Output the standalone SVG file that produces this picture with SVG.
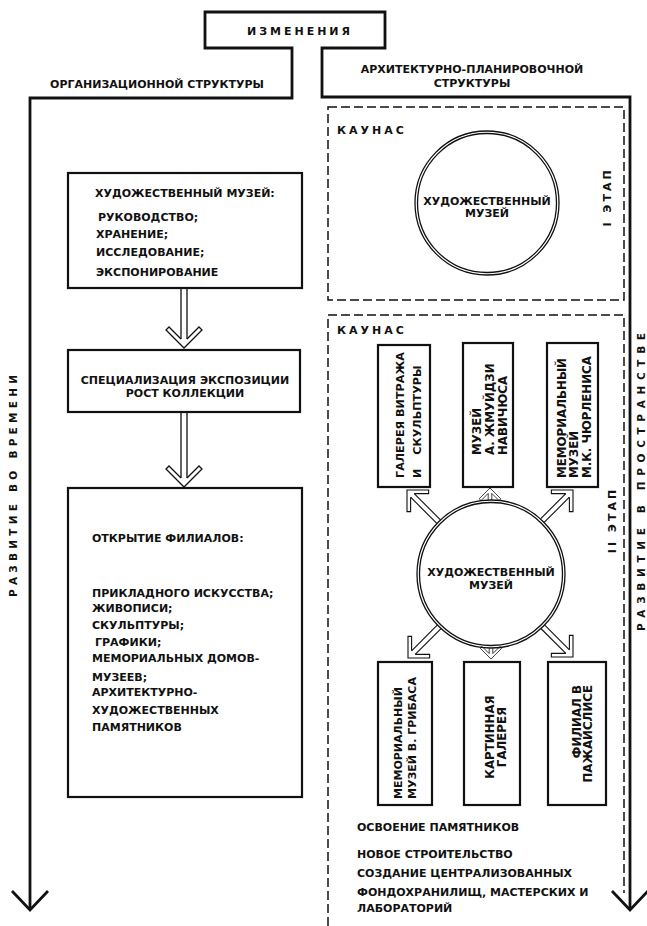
<svg xmlns="http://www.w3.org/2000/svg" width="647" height="926" viewBox="0 0 647 926">
<style>
.t{font-family:"DejaVu Sans","Liberation Sans",sans-serif;font-weight:bold;font-size:11px;fill:#111}
.s{font-size:10.5px}
.r{font-size:11.8px}
.r2{font-size:11.2px}
.main{fill:none;stroke:#111;stroke-width:2.8;stroke-linejoin:miter}
.box{fill:#fff;stroke:#111;stroke-width:2.2}
.dash{fill:none;stroke:#111;stroke-width:1.5;stroke-dasharray:9 4}
.ring{fill:#fff;stroke:#111;stroke-width:1.3}
.ar{fill:none;stroke:#111;stroke-width:1.3;stroke-linejoin:miter}
.chev{fill:none;stroke:#111;stroke-width:2.8}
</style>
<defs>
<path id="head" d="M-9,-3 L-21,-15 L-18,-18 L0,0 L-18,18 L-21,15 L-9,3"/>
</defs>
<rect width="647" height="926" fill="#fff"/>

<g id="frame">
<path class="main" d="M30,908 V98 H292 V48 H205 V12 H385 V48 H322 V97 H630 V908"/>
<path class="chev" d="M12,891 L30,910 L48,891"/>
<path class="chev" d="M612,891 L630,910 L648,891"/>
<text class="t" x="300" y="35" text-anchor="middle" letter-spacing="3">ИЗМЕНЕНИЯ</text>
<text class="t" x="157" y="88" text-anchor="middle">ОРГАНИЗАЦИОННОЙ СТРУКТУРЫ</text>
<text class="t" x="472" y="73" text-anchor="middle">АРХИТЕКТУРНО-ПЛАНИРОВОЧНОЙ</text>
<text class="t" x="472" y="87" text-anchor="middle">СТРУКТУРЫ</text>
<text class="t s" transform="translate(17,486) rotate(-90)" text-anchor="middle" textLength="222">РАЗВИТИЕ  ВО  ВРЕМЕНИ</text>
<text class="t s" transform="translate(645,482) rotate(-90)" text-anchor="middle" textLength="298">РАЗВИТИЕ В ПРОСТРАНСТВЕ</text>
</g>

<g id="stage1">
<rect class="dash" x="328" y="107" width="296" height="193"/>
<text class="t" x="337" y="134" letter-spacing="3">КАУНАС</text>
<text class="t" transform="translate(611,197) rotate(-90)" text-anchor="middle" letter-spacing="3">I  ЭТАП</text>
</g>

<g id="stage2">
<path class="dash" d="M328,926 V315 H624 V893"/>
<text class="t" x="337" y="334" letter-spacing="3">КАУНАС</text>
<text class="t" transform="translate(616,520) rotate(-90)" text-anchor="middle" letter-spacing="3">II  ЭТАП</text>
</g>

<g id="museum1">
<circle class="ring" cx="487" cy="203" r="72"/>
<circle class="ring" cx="487" cy="203" r="69.5"/>
<text class="t" x="487" y="205" text-anchor="middle">ХУДОЖЕСТВЕННЫЙ</text>
<text class="t" x="487" y="217" text-anchor="middle">МУЗЕЙ</text>
</g>

<g id="museum2">
<circle class="ring" cx="491" cy="574" r="74"/>
<circle class="ring" cx="491" cy="574" r="71.5"/>
<text class="t" x="491" y="576" text-anchor="middle">ХУДОЖЕСТВЕННЫЙ</text>
<text class="t" x="491" y="589" text-anchor="middle">МУЗЕЙ</text>
</g>

<g id="boxA">
<rect class="box" x="378" y="345" width="52" height="142"/>
<text class="t r2" transform="translate(404,478) rotate(-90)">ГАЛЕРЕЯ ВИТРАЖА</text>
<text class="t r2" transform="translate(421,478) rotate(-90)">И<tspan dx="14">СКУЛЬПТУРЫ</tspan></text>
</g>
<g id="boxB">
<rect class="box" x="463" y="343" width="50" height="144"/>
<text class="t r" transform="translate(481,455) rotate(-90)">МУЗЕЙ</text>
<text class="t r" transform="translate(494,455) rotate(-90)">А. ЖМУЙДЗИ</text>
<text class="t r" transform="translate(507,455) rotate(-90)">НАВИЧЮСА</text>
</g>
<g id="boxC">
<rect class="box" x="547" y="343" width="51" height="144"/>
<text class="t r" transform="translate(566,478) rotate(-90)">МЕМОРИАЛЬНЫЙ</text>
<text class="t r" transform="translate(578,478) rotate(-90)">МУЗЕЙ</text>
<text class="t r" transform="translate(591,478) rotate(-90)">М.К. ЧЮРЛЕНИСА</text>
</g>
<g id="boxD">
<rect class="box" x="378" y="662" width="54" height="143"/>
<text class="t" transform="translate(402,799) rotate(-90)">МЕМОРИАЛЬНЫЙ</text>
<text class="t" transform="translate(416,799) rotate(-90)">МУЗЕЙ В. ГРИБАСА</text>
</g>
<g id="boxE">
<rect class="box" x="464" y="662" width="56" height="143"/>
<text class="t r" transform="translate(494,737) rotate(-90)" text-anchor="middle">КАРТИННАЯ</text>
<text class="t r" transform="translate(506,737) rotate(-90)" text-anchor="middle">ГАЛЕРЕЯ</text>
</g>
<g id="boxF">
<rect class="box" x="548" y="662" width="58" height="143"/>
<text class="t r" transform="translate(581,685) rotate(-90)" text-anchor="end">ФИЛИАЛ В</text>
<text class="t r" transform="translate(592,685) rotate(-90)" text-anchor="end">ПАЖАЙСЛИСЕ</text>
</g>

<g id="notes">
<text class="t" x="357" y="831">ОСВОЕНИЕ ПАМЯТНИКОВ</text>
<text class="t" x="357" y="858">НОВОЕ СТРОИТЕЛЬСТВО</text>
<text class="t" x="357" y="877">СОЗДАНИЕ ЦЕНТРАЛИЗОВАННЫХ</text>
<text class="t" x="357" y="896">ФОНДОХРАНИЛИЩ, МАСТЕРСКИХ И</text>
<text class="t" x="357" y="912">ЛАБОРАТОРИЙ</text>
</g>

<g id="box1">
<rect class="box" x="68" y="173" width="234" height="115"/>
<text class="t" x="95" y="197">ХУДОЖЕСТВЕННЫЙ МУЗЕЙ:</text>
<text class="t" x="98" y="221">РУКОВОДСТВО;</text>
<text class="t" x="96" y="238">ХРАНЕНИЕ;</text>
<text class="t" x="96" y="256">ИССЛЕДОВАНИЕ;</text>
<text class="t" x="96" y="276">ЭКСПОНИРОВАНИЕ</text>
</g>
<g id="box2">
<rect class="box" x="68" y="350" width="232" height="62"/>
<text class="t" x="185" y="384" text-anchor="middle">СПЕЦИАЛИЗАЦИЯ ЭКСПОЗИЦИИ</text>
<text class="t" x="185" y="397" text-anchor="middle">РОСТ КОЛЛЕКЦИИ</text>
</g>
<g id="box3">
<rect class="box" x="68" y="488" width="234" height="309"/>
<text class="t" x="92" y="542">ОТКРЫТИЕ ФИЛИАЛОВ:</text>
<text class="t" x="92" y="597">ПРИКЛАДНОГО ИСКУССТВА;</text>
<text class="t" x="92" y="612">ЖИВОПИСИ;</text>
<text class="t" x="92" y="629">СКУЛЬПТУРЫ;</text>
<text class="t" x="95" y="646">ГРАФИКИ;</text>
<text class="t" x="92" y="662">МЕМОРИАЛЬНЫХ ДОМОВ-</text>
<text class="t" x="92" y="681">МУЗЕЕВ;</text>
<text class="t" x="92" y="696">АРХИТЕКТУРНО-</text>
<text class="t" x="92" y="714">ХУДОЖЕСТВЕННЫХ</text>
<text class="t" x="92" y="731">ПАМЯТНИКОВ</text>
</g>

<g id="connectors">
<g class="ar" transform="translate(184,348) rotate(90)"><use href="#head"/><path d="M-60,-3 H-9 M-60,3 H-9"/></g>
<g class="ar" transform="translate(184,487) rotate(90)"><use href="#head"/><path d="M-75,-3 H-9 M-75,3 H-9"/></g>
<g class="ar" transform="translate(407,490) rotate(225) scale(0.85)"><use href="#head"/><path d="M-53,-3 H-9 M-53,3 H-9"/></g>
<g class="ar" transform="translate(490,488) rotate(-90) scale(0.6)"><use href="#head"/><path d="M-20,-3 H-9 M-20,3 H-9"/></g>
<g class="ar" transform="translate(573,490) rotate(-45) scale(0.85)"><use href="#head"/><path d="M-51,-3 H-9 M-51,3 H-9"/></g>
<g class="ar" transform="translate(408,658) rotate(135) scale(0.85)"><use href="#head"/><path d="M-52,-3 H-9 M-52,3 H-9"/></g>
<g class="ar" transform="translate(491,659) rotate(90) scale(0.6)"><use href="#head"/><path d="M-18,-3 H-9 M-18,3 H-9"/></g>
<g class="ar" transform="translate(573,657) rotate(45) scale(0.85)"><use href="#head"/><path d="M-50,-3 H-9 M-50,3 H-9"/></g>
</g>
</svg>
